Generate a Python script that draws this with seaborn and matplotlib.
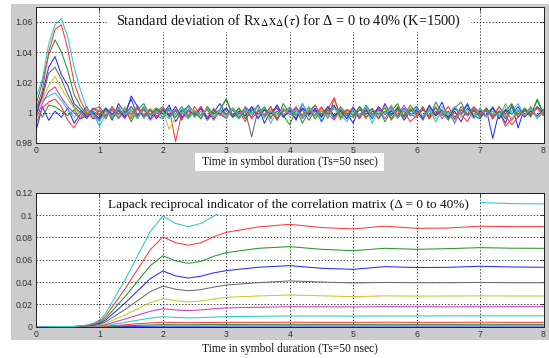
import numpy as np
import pandas as pd
import seaborn as sns
import matplotlib.pyplot as plt
from matplotlib.patches import Rectangle

# time in symbol durations
time_std = np.round(np.arange(0, 81) / 10, 1)
time_lapack = [0, 0.6, 0.8, 0.9, 1.0, 1.1, 1.2, 1.4, 1.6, 1.8, 2.0, 2.2, 2.4, 2.6,
               2.8, 3.0, 3.5, 4.0, 4.5, 5.0, 5.5, 6.0, 6.5, 7.0, 7.5, 8.0]

deltas = ['0%', '4%', '8%', '12%', '16%', '20%', '24%', '28%', '32%', '36%', '40%']
# matlab default colour order b g r c m y k, then again
line_colors = ['#2a2aff', '#2a962a', '#ff3a3a', '#2cc8c8', '#c83cc8', '#c8c82a', '#6a6a6a',
               '#2a2aff', '#2a962a', '#ff3a3a', '#2cc8c8']

# --- standard deviation of Rx x (tau), top panel ---
std_d00 = [0.988, 1.004, 0.995, 1.001, 0.997, 1.003, 0.993, 0.999, 1.004, 0.996,
           0.997, 1.003, 0.995, 1.006, 1.000, 1.009, 0.998, 1.004, 0.996, 1.002,
           0.999, 1.005, 0.994, 1.001, 1.004, 0.997, 1.003, 0.995, 1.000, 1.006,
           0.998, 1.002, 0.996, 1.004, 0.999, 1.005, 0.993, 1.001, 1.003, 0.997,
           1.002, 0.995, 1.006, 0.998, 1.003, 0.994, 1.001, 1.005, 0.997, 1.000,
           0.993, 1.004, 0.999, 1.002, 0.996, 1.006, 0.998, 1.003, 0.995, 1.001,
           1.004, 0.997, 1.002, 0.999, 1.007, 0.996, 1.001, 0.994, 1.003, 0.998,
           0.996, 1.002, 0.983, 1.001, 0.993, 1.005, 0.990, 1.003, 0.998, 1.004, 1.000]
std_d04 = [1.006, 0.997, 1.005, 1.004, 1.001, 0.998, 1.002, 0.996, 0.998, 1.003,
           1.001, 0.996, 1.004, 0.999, 1.003, 0.994, 1.002, 1.006, 0.998, 1.001,
           1.004, 0.997, 1.002, 0.995, 1.005, 1.000, 0.996, 1.003, 0.999, 1.002,
           1.009, 0.998, 1.003, 0.996, 1.001, 1.004, 0.997, 1.002, 0.995, 1.006,
           0.999, 1.003, 0.993, 1.001, 1.005, 0.998, 1.002, 0.996, 1.004, 0.999,
           1.002, 0.996, 1.005, 0.999, 1.003, 0.994, 1.001, 1.006, 0.997, 1.002,
           0.998, 1.004, 0.996, 1.007, 1.000, 0.995, 1.003, 0.999, 1.005, 0.997,
           1.002, 0.998, 1.004, 0.996, 1.001, 1.006, 0.997, 1.003, 0.999, 1.008, 0.999]
std_d08 = [0.993, 1.003, 1.007, 1.009, 1.004, 0.995, 0.990, 0.997, 1.002, 0.999,
           0.995, 1.002, 0.998, 1.004, 0.997, 1.001, 0.996, 1.003, 0.999, 1.002,
           0.997, 1.003, 0.981, 1.000, 0.996, 1.004, 0.998, 1.002, 0.995, 1.001,
           1.003, 0.997, 1.001, 0.994, 1.004, 0.999, 1.002, 0.996, 1.005, 0.998,
           1.001, 0.996, 1.003, 0.999, 1.005, 0.997, 1.002, 1.010, 0.996, 1.001,
           0.998, 1.003, 0.996, 1.002, 0.999, 1.004, 0.995, 1.001, 0.997, 1.003,
           1.000, 0.995, 1.003, 0.998, 1.002, 0.996, 1.004, 0.999, 0.994, 1.002,
           0.999, 1.003, 0.997, 1.001, 0.991, 0.996, 1.002, 0.998, 1.004, 0.997, 1.001]
std_d12 = [1.004, 1.008, 1.011, 1.013, 1.008, 1.002, 0.997, 1.001, 0.998, 1.000,
           0.991, 0.999, 1.004, 0.997, 1.002, 0.998, 1.005, 0.996, 1.001, 1.003,
           1.000, 0.996, 1.002, 0.999, 1.004, 0.997, 1.001, 0.995, 1.003, 0.998,
           1.002, 0.999, 0.996, 1.004, 1.000, 0.997, 1.003, 0.993, 1.001, 0.998,
           1.004, 0.999, 1.006, 0.997, 1.002, 0.995, 1.001, 0.998, 1.003, 0.996,
           1.001, 0.997, 1.003, 0.993, 1.002, 0.999, 1.005, 0.997, 1.001, 0.998,
           1.003, 0.996, 1.001, 0.998, 1.004, 0.999, 0.995, 1.002, 0.998, 1.003,
           0.997, 1.002, 0.999, 1.004, 0.996, 1.001, 1.006, 0.998, 1.002, 0.996, 1.001]
std_d16 = [0.996, 1.006, 1.014, 1.017, 1.010, 1.004, 1.000, 0.996, 0.999, 1.003,
           0.999, 1.003, 0.997, 1.001, 0.996, 1.004, 0.999, 1.002, 0.995, 1.000,
           1.003, 0.998, 1.001, 0.996, 1.002, 0.999, 1.004, 0.997, 1.002, 0.999,
           0.996, 1.003, 0.999, 1.002, 0.997, 1.005, 0.998, 1.001, 0.996, 1.002,
           0.999, 1.004, 0.996, 1.001, 0.998, 1.003, 0.999, 0.995, 1.002, 0.998,
           1.004, 0.997, 1.001, 0.999, 1.003, 0.996, 1.002, 0.998, 1.005, 0.999,
           0.997, 1.002, 0.998, 1.004, 0.996, 1.001, 0.993, 1.002, 0.999, 1.004,
           1.000, 0.997, 1.003, 0.998, 1.002, 0.995, 1.001, 0.998, 1.003, 0.997, 1.002]
std_d20 = [1.000, 1.008, 1.018, 1.024, 1.016, 1.009, 1.003, 0.999, 1.001, 0.997,
           1.002, 0.997, 1.001, 0.998, 1.004, 0.996, 1.002, 0.999, 1.003, 0.997,
           1.001, 0.989, 0.997, 1.003, 0.999, 1.002, 0.996, 1.004, 0.998, 1.001,
           0.998, 1.002, 0.997, 1.001, 0.999, 1.004, 0.996, 1.002, 0.998, 1.003,
           0.997, 1.001, 0.999, 1.004, 0.996, 1.002, 0.998, 1.003, 0.995, 1.001,
           0.999, 1.003, 0.997, 1.002, 0.998, 1.004, 0.996, 1.001, 0.999, 1.003,
           1.002, 0.998, 1.003, 0.996, 1.001, 0.999, 1.004, 0.997, 1.002, 0.998,
           1.003, 0.997, 1.001, 0.999, 1.004, 0.996, 1.002, 0.998, 1.001, 0.997, 1.000]
std_d24 = [1.003, 1.010, 1.026, 1.030, 1.022, 1.012, 1.004, 1.000, 0.996, 1.002,
           1.004, 0.998, 1.002, 0.996, 1.001, 0.999, 1.003, 0.997, 1.002, 0.998,
           0.996, 1.002, 0.999, 1.004, 0.997, 1.001, 0.998, 1.003, 0.996, 1.002,
           0.999, 1.003, 0.997, 1.001, 0.984, 1.002, 0.998, 1.004, 0.996, 1.001,
           1.003, 0.998, 1.002, 0.995, 1.001, 0.999, 1.004, 0.997, 1.002, 0.998,
           0.997, 1.002, 0.999, 1.003, 0.996, 1.001, 0.998, 1.004, 0.997, 1.002,
           1.001, 0.997, 1.004, 0.999, 1.002, 0.996, 1.003, 1.007, 0.998, 1.001,
           0.998, 1.003, 0.996, 1.001, 0.999, 1.004, 0.997, 1.002, 0.999, 1.003, 0.998]
std_d28 = [0.998, 1.012, 1.030, 1.037, 1.025, 1.018, 1.006, 1.002, 0.997, 1.000,
           0.996, 1.003, 0.999, 1.002, 0.997, 1.011, 1.004, 0.998, 1.002, 0.996,
           1.002, 0.998, 1.004, 0.997, 1.001, 0.999, 1.003, 0.996, 1.002, 0.999,
           1.003, 0.997, 1.001, 0.998, 1.004, 0.996, 1.002, 0.999, 1.005, 0.997,
           1.001, 0.996, 1.003, 0.999, 1.002, 0.997, 1.004, 0.998, 1.001, 0.996,
           1.003, 0.998, 1.002, 0.996, 1.004, 0.999, 1.001, 0.997, 1.003, 0.998,
           1.002, 0.996, 1.005, 0.998, 1.001, 0.997, 1.003, 0.999, 1.006, 0.997,
           1.001, 0.998, 1.003, 0.996, 1.002, 0.999, 1.004, 0.997, 1.001, 0.998, 1.002]
std_d32 = [1.005, 1.020, 1.038, 1.048, 1.040, 1.028, 1.012, 1.004, 0.999, 1.001,
           0.998, 1.002, 0.996, 1.001, 0.999, 1.004, 0.997, 1.002, 0.998, 1.003,
           0.999, 1.003, 0.997, 1.002, 0.998, 1.001, 0.996, 1.004, 0.999, 1.002,
           1.009, 0.998, 1.003, 0.996, 1.002, 0.999, 1.004, 0.997, 1.001, 0.998,
           0.992, 1.002, 0.998, 1.003, 0.996, 1.001, 0.999, 1.004, 0.997, 1.002,
           0.998, 1.004, 0.997, 1.001, 0.999, 1.003, 0.996, 1.002, 0.998, 1.005,
           0.999, 1.002, 0.997, 1.003, 0.998, 1.001, 0.996, 1.004, 0.999, 1.002,
           0.997, 1.003, 0.998, 1.001, 0.996, 1.004, 0.999, 1.002, 0.997, 1.009, 1.000]
std_d36 = [1.002, 1.015, 1.040, 1.055, 1.058, 1.042, 1.020, 1.008, 1.000, 0.996,
           1.002, 0.997, 1.003, 0.999, 1.001, 0.996, 1.004, 0.998, 1.002, 0.997,
           1.003, 0.999, 1.002, 0.996, 1.001, 0.998, 1.004, 0.997, 1.002, 0.999,
           0.997, 1.002, 0.999, 1.003, 0.996, 1.001, 0.998, 1.004, 0.995, 1.002,
           0.999, 1.003, 0.997, 1.001, 0.998, 1.004, 0.996, 1.009, 0.999, 1.002,
           1.001, 0.996, 1.003, 0.998, 1.002, 0.999, 1.004, 0.997, 1.001, 0.994,
           0.998, 1.003, 0.996, 1.001, 0.999, 1.004, 0.997, 1.002, 0.998, 1.003,
           0.999, 1.002, 0.996, 1.004, 0.998, 0.992, 0.997, 1.001, 0.999, 1.003, 0.998]
std_d40 = [1.010, 1.022, 1.045, 1.058, 1.062, 1.050, 1.030, 1.015, 1.003, 0.998,
           0.994, 1.001, 0.997, 1.003, 0.999, 1.002, 0.996, 1.004, 0.998, 1.001,
           0.997, 1.002, 0.999, 1.004, 0.996, 1.001, 0.998, 1.003, 0.997, 1.002,
           0.996, 1.003, 0.998, 1.002, 0.999, 1.004, 0.997, 1.001, 0.998, 1.003,
           0.999, 1.002, 0.996, 1.004, 0.998, 1.001, 0.997, 1.003, 0.999, 0.994,
           1.002, 0.998, 1.004, 0.997, 1.001, 0.999, 1.003, 0.996, 1.002, 0.998,
           1.003, 0.997, 1.002, 0.994, 1.001, 0.998, 1.004, 0.999, 1.002, 0.996,
           1.003, 0.998, 1.001, 0.997, 1.006, 0.999, 1.002, 0.998, 1.003, 0.997, 1.001]

# --- lapack reciprocal indicator, bottom panel ---
lapack_d00 = [0, 0, 0, 0, 0, 0.0001, 0.0001, 0.0002, 0.0003, 0.0004, 0.0005, 0.0005, 0.0005,
              0.0005, 0.0005, 0.0006, 0.0006, 0.0006, 0.0006, 0.0006, 0.0006, 0.0006, 0.0006,
              0.0006, 0.0006, 0.0006]
lapack_d04 = [0, 0, 0, 0.0001, 0.0001, 0.0002, 0.0004, 0.0008, 0.0012, 0.0016, 0.0019, 0.0018,
              0.0018, 0.0019, 0.0020, 0.0020, 0.0021, 0.0021, 0.0021, 0.0021, 0.0021, 0.0021,
              0.0021, 0.0021, 0.0021, 0.0021]
lapack_d08 = [0, 0, 0.0001, 0.0001, 0.0002, 0.0005, 0.0009, 0.0017, 0.0026, 0.0034, 0.0040,
              0.0037, 0.0036, 0.0037, 0.0038, 0.0039, 0.0039, 0.0040, 0.0039, 0.0039, 0.0040,
              0.0039, 0.0039, 0.0040, 0.0039, 0.0039]
lapack_d12 = [0, 0, 0.0001, 0.0003, 0.0005, 0.0011, 0.0020, 0.0038, 0.0058, 0.0077, 0.0090,
              0.0083, 0.0079, 0.0081, 0.0086, 0.0090, 0.0093, 0.0096, 0.0096, 0.0095, 0.0096,
              0.0096, 0.0097, 0.0097, 0.0097, 0.0097]
lapack_d16 = [0, 0, 0.0002, 0.0005, 0.0010, 0.0019, 0.0035, 0.0068, 0.0103, 0.0138, 0.0161,
              0.0150, 0.0145, 0.0150, 0.0160, 0.0168, 0.0174, 0.0179, 0.0178, 0.0177, 0.0179,
              0.0179, 0.0178, 0.0179, 0.0179, 0.0179]
lapack_d20 = [0, 0, 0.0004, 0.0008, 0.0015, 0.0030, 0.0055, 0.0105, 0.0160, 0.0216, 0.0251,
              0.0232, 0.0222, 0.0230, 0.0248, 0.0263, 0.0275, 0.0284, 0.0277, 0.0269, 0.0276,
              0.0274, 0.0275, 0.0276, 0.0275, 0.0275]
lapack_d24 = [0, 0, 0.0005, 0.0011, 0.0022, 0.0044, 0.0080, 0.0153, 0.0233, 0.0313, 0.0364,
              0.0336, 0.0322, 0.0332, 0.0355, 0.0373, 0.0394, 0.0410, 0.0400, 0.0392, 0.0396,
              0.0394, 0.0394, 0.0396, 0.0394, 0.0394]
lapack_d28 = [0, 0.0001, 0.0008, 0.0015, 0.0030, 0.0060, 0.0110, 0.0210, 0.0320, 0.0430, 0.0499,
              0.0455, 0.0436, 0.0452, 0.0482, 0.0502, 0.0532, 0.0547, 0.0523, 0.0514, 0.0538,
              0.0530, 0.0532, 0.0541, 0.0535, 0.0532]
lapack_d32 = [0, 0.0001, 0.0010, 0.0019, 0.0038, 0.0076, 0.0140, 0.0267, 0.0406, 0.0546, 0.0635,
              0.0590, 0.0568, 0.0585, 0.0630, 0.0663, 0.0702, 0.0717, 0.0693, 0.0681, 0.0702,
              0.0693, 0.0699, 0.0708, 0.0703, 0.0702]
lapack_d36 = [0, 0.0002, 0.0012, 0.0024, 0.0048, 0.0096, 0.0176, 0.0336, 0.0512, 0.0688, 0.0805,
              0.0752, 0.0730, 0.0752, 0.0805, 0.0845, 0.0893, 0.0917, 0.0888, 0.0876, 0.0900,
              0.0881, 0.0884, 0.0900, 0.0896, 0.0896]
lapack_d40 = [0, 0.0002, 0.0015, 0.0030, 0.0060, 0.0120, 0.0220, 0.0416, 0.0634, 0.0851, 0.0990,
              0.0925, 0.0896, 0.0925, 0.0990, 0.1050, 0.1090, 0.1110, 0.1105, 0.1100, 0.1108,
              0.1102, 0.1105, 0.1112, 0.1102, 0.1100]

std_series = [std_d00, std_d04, std_d08, std_d12, std_d16, std_d20,
              std_d24, std_d28, std_d32, std_d36, std_d40]
lapack_series = [lapack_d00, lapack_d04, lapack_d08, lapack_d12, lapack_d16, lapack_d20,
                 lapack_d24, lapack_d28, lapack_d32, lapack_d36, lapack_d40]


def long_frame(time, series):
    return pd.DataFrame({
        'time': np.tile(time, len(series)),
        'value': np.concatenate(series),
        'delta': np.repeat(deltas, len(time)),
    })


def style_axes(ax, ylim, yticks, ylabels):
    ax.set_facecolor('white')
    ax.set_xlim(0, 8)
    ax.set_ylim(*ylim)
    ax.set_xticks(range(9))
    ax.set_xticklabels([str(i) for i in range(9)])
    ax.set_yticks(yticks)
    ax.set_yticklabels(ylabels)
    ax.grid(True, color='#222222', linestyle=(0, (1.6, 2.2)), linewidth=0.6)
    ax.tick_params(direction='in', length=3, width=0.6, labelsize=6.3,
                   labelcolor='#333333', color='#222222', top=True, right=True, pad=2.5)
    for s in ax.spines.values():
        s.set_linewidth(0.7)
        s.set_color('#222222')
        s.set_zorder(6)
    ax.set_xlabel('')
    ax.set_ylabel('')


sns.set_theme(style='white')
plt.rcParams['font.family'] = ['Liberation Sans', 'DejaVu Sans']
plt.rcParams['mathtext.fontset'] = 'stix'

W, H = 549, 358
fig = plt.figure(figsize=(W / 100, H / 100), dpi=100)
fig.patch.set_facecolor('white')
# matlab grey figure area
fig.add_artist(Rectangle((11 / W, 18 / H), 538 / W, 336 / H, transform=fig.transFigure,
                         facecolor='#cccccc', edgecolor='none', zorder=-10))

ax1 = fig.add_axes([36 / W, 1 - 143 / H, 507.5 / W, 136.5 / H])
ax2 = fig.add_axes([36 / W, 1 - 326.7 / H, 507.5 / W, 134 / H])

sns.lineplot(data=long_frame(time_std, std_series), x='time', y='value', hue='delta',
             palette=line_colors, estimator=None, legend=False, linewidth=0.75, ax=ax1)
sns.lineplot(data=long_frame(time_lapack, lapack_series), x='time', y='value', hue='delta',
             palette=line_colors, estimator=None, legend=False, linewidth=0.75, ax=ax2)

style_axes(ax1, (0.98, 1.07), [0.98, 1.0, 1.02, 1.04, 1.06],
           ['0.98', '1', '1.02', '1.04', '1.06'])
style_axes(ax2, (0, 0.12), [0, 0.02, 0.04, 0.06, 0.08, 0.1, 0.12],
           ['0', '0.02', '0.04', '0.06', '0.08', '0.1', '0.12'])

# titles written inside the axes on white boxes
ax1.add_patch(Rectangle((1.12, 1.0535), 5.74, 0.0165, facecolor='white', edgecolor='none', zorder=4))
ax1.text(3.98, 1.0605,
         r'Standard deviation of Rx$_{\Delta}$x$_{\Delta}$($\tau$) for Δ = 0 to 40% (K=1500)',
         ha='center', va='center', fontsize=10.4, family='Liberation Serif', color='#111111', zorder=5)
ax2.add_patch(Rectangle((1.15, 0.1012), 5.85, 0.0188, facecolor='white', edgecolor='none', zorder=4))
ax2.text(3.98, 0.109, 'Lapack reciprocal indicator of the correlation matrix (Δ = 0 to 40%)',
         ha='center', va='center', fontsize=9.5, family='Liberation Serif', color='#111111', zorder=5)

# x labels
fig.add_artist(Rectangle((195 / W, 1 - 171 / H), 189 / W, 18 / H, transform=fig.transFigure,
                         facecolor='white', edgecolor='none', zorder=1))
fig.text(289.5 / W, 1 - 162 / H, 'Time in symbol duration (Ts=50 nsec)', ha='center', va='center',
         fontsize=8.3, family='Liberation Serif', color='#111111', zorder=2)
fig.text(289.5 / W, 1 - 349 / H, 'Time in symbol duration (Ts=50 nsec)', ha='center', va='center',
         fontsize=8.3, family='Liberation Serif', color='#111111', zorder=2)

fig.savefig('out.png', dpi=100)
